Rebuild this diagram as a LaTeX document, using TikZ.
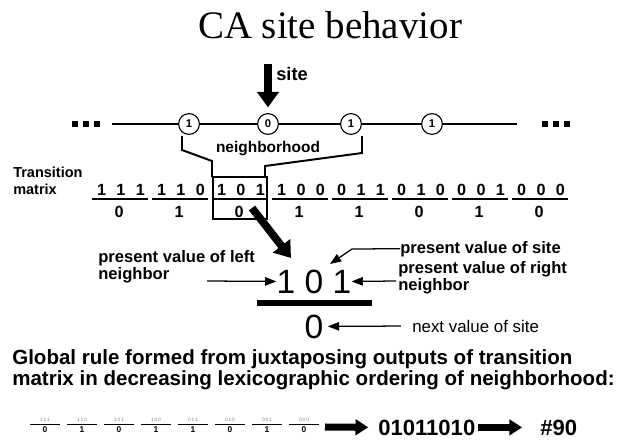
\documentclass[tikz,border=0pt]{standalone}
\usepackage{fontspec}
\setmainfont{Liberation Sans}
\newfontfamily\titlefont{Liberation Serif}
\usetikzlibrary{arrows.meta}

\begin{document}
\begin{tikzpicture}[x=0.025cm, y=-0.025cm,
    lbl/.style={font=\bfseries\fontsize{11.8}{12}\selectfont, inner sep=0pt},
    bit/.style={font=\bfseries\fontsize{11.5}{11.5}\selectfont, inner sep=0pt},
    big/.style={font=\fontsize{23.9}{24}\selectfont, inner sep=0pt},
    ca/.style={circle, draw, line width=0.8pt, minimum size=14.8pt, inner sep=0pt,
      fill=white, font=\bfseries\fontsize{8}{8}\selectfont},
    pointer/.style={line width=0.9pt, -{Triangle[width=6pt,length=8pt]}},
    fat/.style={line width=5.5pt, -{Triangle[width=15pt,length=11pt]}},
    fatr/.style={line width=5pt, -{Triangle[width=11pt,length=9pt]}}]

  \path[fill=white] (0,0) rectangle (628,441);

  \node[anchor=base] (title) at (330,38) {\titlefont\fontsize{27.7}{28}\selectfont CA site behavior};

  % the lattice
  \coordinate (lend) at (112,124);
  \coordinate (rend) at (517,124);
  \node[ca] (c1) at (189,124) {1};
  \node[ca] (c2) at (268,124) {0};
  \node[ca] (c3) at (351,124) {1};
  \node[ca] (c4) at (432,124) {1};
  \draw[line width=1pt] (lend) -- (c1) -- (c2) -- (c3) -- (c4) -- (rend);
  \foreach \x in {75,86,97,545,556,567}
    \fill (\x-3,121) rectangle (\x+3,127);

  \node[lbl, anchor=base west, font=\bfseries\fontsize{13}{13}\selectfont] (site) at (276,80) {site};
  \coordinate (sitetop) at (268,64);
  \draw[fat, shorten >=4pt] (sitetop) -- (c2.north);

  \node[lbl, anchor=base, font=\bfseries\fontsize{11}{11}\selectfont] (nbh) at (268,152) {neighborhood};
  \draw[line width=1.4pt] (182,136) -- (182,150) -- (212,161) -- (212,177);
  \draw[line width=1.4pt] (362,136) -- (362,153) -- (265,166) -- (265,177);

  % transition matrix
  \node[lbl, anchor=base west, font=\bfseries\fontsize{10.3}{10}\selectfont] (tm1) at (13,177) {Transition};
  \node[lbl, anchor=base west, font=\bfseries\fontsize{10.3}{10}\selectfont] (tm2) at (13,194) {matrix};
  \foreach \a/\b/\c/\v [count=\i from 0] in {1/1/1/0,1/1/0/1,1/0/1/0,1/0/0/1,0/1/1/1,0/1/0/0,0/0/1/1,0/0/0/0} {
    \node[bit, anchor=base] (n\i) at (121+60*\i,195) {\a\hspace{7.4pt}\b\hspace{7.4pt}\c};
    \node[bit, anchor=base] (d\i) at (119+60*\i,217) {\v};
    \draw[line width=1.3pt] (92+60*\i,199) -- (148+60*\i,199);
  }
  \node[draw, line width=2pt, minimum width=38.4pt, minimum height=29.9pt] (sel) at (240,198) {};

  % one step of the rule
  \node[big, anchor=base] (now) at (314,293) {1 0 1};
  \draw[line width=3.6pt] (257,303) -- (372,303);
  \node[big, anchor=base] (next) at (314,338) {0};
  \coordinate (selout) at (252,208);
  \coordinate (selin) at (291,258);
  \draw[fat] (selout) -- (selin);

  \node[lbl, anchor=base west] (lft1) at (98,262) {present value of left};
  \node[lbl, anchor=base west] (lft2) at (98,279) {neighbor};
  \coordinate (lftarr) at (207,281);
  \draw[pointer] (lftarr) -- (now.west);

  \node[lbl, anchor=base west] (cur) at (400,253) {present value of site};
  \coordinate (curbend) at (352,249);
  \coordinate (curtip) at (330,264);
  \draw[pointer] (cur.west) -- (curbend) -- (curtip);

  \node[lbl, anchor=base west] (rgt1) at (398,273) {present value of right};
  \node[lbl, anchor=base west] (rgt2) at (398,290) {neighbor};
  \coordinate (rgtarr) at (396,281);
  \draw[pointer] (rgtarr) -- (now.east);

  \node[anchor=base west, inner sep=0pt, font=\fontsize{12}{12}\selectfont] (nxt) at (412,332) {next value of site};
  \draw[pointer, shorten <=8pt, shorten >=3pt] (nxt.west) -- (next.east);

  % global rule
  \node[anchor=base west, inner sep=0pt, font=\bfseries\fontsize{14.6}{14}\selectfont] (rule1) at (12,364) {Global rule formed from juxtaposing outputs of transition};
  \node[anchor=base west, inner sep=0pt, font=\bfseries\fontsize{14.6}{14}\selectfont] (rule2) at (12,385) {matrix in decreasing lexicographic ordering of neighborhood:};

  \foreach \a/\b/\c/\v [count=\i from 0] in {1/1/1/0,1/1/0/1,1/0/1/0,1/0/0/1,0/1/1/1,0/1/0/0,0/0/1/1,0/0/0/0} {
    \node[anchor=base, inner sep=0pt, text=gray, font=\fontsize{3.5}{3.5}\selectfont] (p\i) at (45+37*\i,421) {\a\,\b\,\c};
    \node[anchor=base, inner sep=0pt, font=\bfseries\fontsize{6}{6}\selectfont] (q\i) at (45+37*\i,432) {\v};
    \draw[line width=0.7pt] (30+37*\i,424) -- (60+37*\i,424);
  }
  \coordinate (gl) at (325,427);
  \node[anchor=base west, inner sep=0pt, font=\bfseries\fontsize{15.7}{16}\selectfont] (code) at (378,435) {01011010};
  \node[anchor=base west, inner sep=0pt, font=\bfseries\fontsize{15.7}{16}\selectfont] (wnum) at (540,435) {\#90};
  \draw[fatr, shorten >=7pt] (gl) -- (code.west);
  \draw[fatr, shorten <=2pt, shorten >=12.8pt] (code.east) -- (wnum.west);
\end{tikzpicture}
\end{document}
